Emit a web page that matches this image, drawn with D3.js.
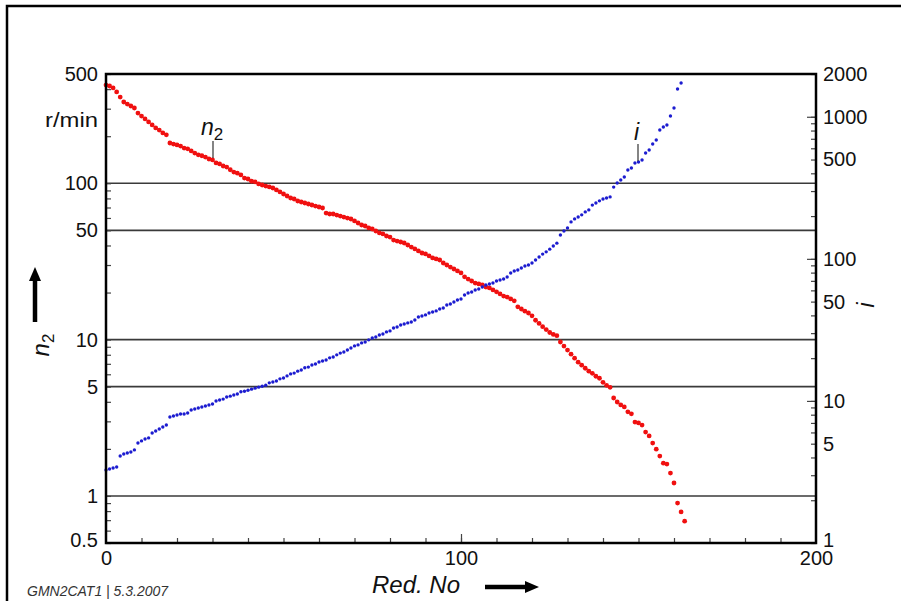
<!DOCTYPE html>
<html>
<head>
<meta charset="utf-8">
<script src="https://cdn.jsdelivr.net/npm/d3@7"></script>
<style>
  body { margin: 0; background: #fff; }
  svg { display: block; }
  text { font-family: "Liberation Sans", Arial, sans-serif; }
</style>
</head>
<body>
<div id="chart"></div>
<script>
// Output speed n2 (r/min), one value per Red. No (0, 1, 2, ...)
var n2Values = [
  425, 419, 407, 384, 356, 331, 321, 312, 303, 281,
  269, 258, 247, 236, 226, 219, 210, 204, 181, 178,
  176, 173, 168, 166, 161, 156, 152, 150, 147, 143,
  141, 135, 133, 129, 127, 122, 118, 116, 113, 108,
  106.5, 103, 102, 99, 97.5, 96, 94.7, 93.3, 90.6, 88,
  85.4, 82.9, 80.5, 79.3, 77, 75.9, 74.8, 73.7, 72.6, 71.5,
  70.5, 69.5, 64.5, 63.6, 63.6, 62.6, 61.7, 60.8, 59.9, 59.1,
  57.4, 55.7, 54.1, 53.3, 51.8, 51, 49.5, 48.1, 47.4, 46,
  45.3, 43.3, 42.7, 42.1, 41.5, 40.3, 39.1, 38, 36.9, 35.8,
  35.3, 34.3, 33.3, 32.8, 32.3, 30.9, 30, 29.1, 28.3, 27.5,
  26.7, 25.2, 24.4, 23.7, 23, 22.7, 22.4, 21.7, 21.4, 20.8,
  20.2, 19.6, 19, 18.7, 18.2, 17.7, 16.2, 15.7, 15.2, 14.8,
  14.2, 13.3, 12.7, 12.1, 11.6, 11.1, 10.8, 10.6, 9.65, 9.09,
  8.57, 8.07, 7.61, 7.17, 6.86, 6.56, 6.28, 6.09, 5.83, 5.66,
  5.33, 5.1, 4.95, 4.23, 3.99, 3.82, 3.71, 3.45, 3.35, 2.97,
  2.93, 2.84, 2.56, 2.42, 2.18, 1.99, 1.8, 1.62, 1.6, 1.4,
  1.21, 0.9, 0.79, 0.69
];

// Ratio i, one value per Red. No
var iValues = [
  3.27, 3.32, 3.37, 3.43, 4.10, 4.23, 4.30, 4.37, 4.52, 5.06,
  5.23, 5.40, 5.49, 5.95, 6.14, 6.35, 6.55, 6.77, 7.71, 7.83,
  7.96, 8.09, 8.09, 8.22, 8.64, 8.77, 8.92, 9.07, 9.21, 9.36,
  9.51, 9.99, 10.15, 10.3, 10.66, 10.8, 11.0, 11.2, 11.6, 11.7,
  11.9, 12.1, 12.3, 12.5, 12.7, 12.9, 13.4, 13.6, 13.8, 14.3,
  14.5, 15.0, 15.5, 15.7, 16.2, 16.5, 17.1, 17.3, 17.9, 18.2,
  18.8, 19.1, 19.4, 20.1, 20.4, 21.1, 21.7, 22.1, 22.8, 23.6,
  24.4, 24.8, 25.6, 26.0, 26.9, 27.7, 28.2, 29.1, 29.6, 30.6,
  31.1, 32.6, 33.1, 34.2, 34.8, 35.4, 35.9, 37.1, 39.0, 39.6,
  40.3, 41.6, 42.3, 43.0, 44.4, 45.1, 47.3, 48.1, 49.7, 51.3,
  52.2, 55.7, 57.5, 58.4, 60.4, 61.3, 63.4, 65.5, 66.5, 67.6,
  69.8, 71.0, 72.2, 74.5, 79.5, 82.1, 83.5, 86.2, 89.1, 90.5,
  93.5, 98.2, 103, 108, 112, 117, 123, 129, 147, 157,
  165, 182, 191, 197, 204, 214, 221, 239, 247, 256,
  264, 268, 273, 320, 342, 359, 377, 422, 436, 473,
  480, 496, 556, 584, 643, 686, 807, 847, 875, 1013,
  1153, 1569, 1729
];

// tick labels
var leftLabels = [500, 100, 50, 10, 5, 1, 0.5];
var rightLabels = [2000, 1000, 500, 100, 50, 10, 5, 1];
var rightMajor = [10, 100, 1000];
var xLabels = [0, 100, 200];
var xMinor = d3.range(10, 200, 10);
var gridValues = [100, 50, 10, 5, 1];

var width = 901, height = 601;
var plotL = 106, plotR = 816, plotT = 74, plotB = 543;

var svg = d3.select("#chart")
  .append("svg")
  .attr("width", width)
  .attr("height", height);

// page frame, only top and left edges show
svg.append("path")
  .attr("d", "M7," + height + "V6H" + width)
  .attr("fill", "none")
  .attr("stroke", "#000")
  .attr("stroke-width", 2.5);

var xScale = d3.scaleLinear().domain([0, 200]).range([plotL, plotR]);
var yLeft = d3.scaleLog().domain([0.5, 500]).range([plotB, plotT]);
var yRight = d3.scaleLog().domain([1, 2000]).range([plotB, plotT]);

// horizontal gridlines
svg.append("g")
  .selectAll("line")
  .data(gridValues)
  .enter()
  .append("line")
  .attr("x1", plotL)
  .attr("x2", plotR)
  .attr("y1", function(d) { return yLeft(d); })
  .attr("y2", function(d) { return yLeft(d); })
  .attr("stroke", "#3a3a3a")
  .attr("stroke-width", 1.6);

// small inside ticks
function tickGroup(axis, tx, ty) {
  var g = svg.append("g")
    .attr("transform", "translate(" + tx + "," + ty + ")")
    .attr("color", "#444")
    .call(axis);
  g.select(".domain").remove();
  g.selectAll(".tick line").attr("stroke-width", 1.2);
  return g;
}
tickGroup(d3.axisRight(yLeft).tickValues(yLeft.ticks()).tickSize(5).tickFormat(""), plotL, 0);
tickGroup(d3.axisLeft(yRight).tickValues(yRight.ticks()).tickSize(5).tickFormat(""), plotR, 0);
tickGroup(d3.axisLeft(yRight).tickValues(rightMajor).tickSize(9).tickFormat(""), plotR, 0);
tickGroup(d3.axisTop(xScale).tickValues(xMinor).tickSize(5).tickFormat(""), 0, plotB);
tickGroup(d3.axisTop(xScale).tickValues([100]).tickSize(9).tickFormat(""), 0, plotB);

// tick labels
function labelGroup(axis, tx, ty, lowest) {
  var g = svg.append("g")
    .attr("transform", "translate(" + tx + "," + ty + ")")
    .call(axis);
  g.select(".domain").remove();
  g.selectAll(".tick line").remove();
  g.selectAll("text")
    .attr("font-family", "'Liberation Sans', Arial, sans-serif")
    .attr("font-size", 20)
    .attr("fill", "#111");
  // the bottom label of each y axis sits a little higher
  if (lowest !== undefined) {
    g.selectAll(".tick")
      .filter(function(d) { return d === lowest; })
      .select("text")
      .attr("y", -3);
  }
  return g;
}
labelGroup(d3.axisLeft(yLeft).tickValues(leftLabels).tickSize(0).tickPadding(8)
  .tickFormat(function(d) { return String(d); }), plotL, 0, 0.5);
labelGroup(d3.axisRight(yRight).tickValues(rightLabels).tickSize(0).tickPadding(7)
  .tickFormat(function(d) { return String(d); }), plotR, 0, 1);
labelGroup(d3.axisBottom(xScale).tickValues(xLabels).tickSize(0).tickPadding(8)
  .tickFormat(function(d) { return String(d); }), 0, plotB);

// unit under the top label
svg.append("text")
  .attr("x", 45)
  .attr("y", 127)
  .attr("font-size", 20)
  .attr("textLength", 53)
  .attr("lengthAdjust", "spacingAndGlyphs")
  .attr("fill", "#111")
  .text("r/min");

// data points
svg.append("g")
  .selectAll("circle")
  .data(n2Values)
  .enter()
  .append("circle")
  .attr("cx", function(d, i) { return xScale(i); })
  .attr("cy", function(d) { return yLeft(d); })
  .attr("r", 2.4)
  .attr("fill", "#f01010");

svg.append("g")
  .selectAll("circle")
  .data(iValues)
  .enter()
  .append("circle")
  .attr("cx", function(d, i) { return xScale(i); })
  .attr("cy", function(d) { return yRight(d); })
  .attr("r", 1.7)
  .attr("fill", "#1c1cd0");

// plot frame
svg.append("rect")
  .attr("x", plotL)
  .attr("y", plotT)
  .attr("width", plotR - plotL)
  .attr("height", plotB - plotT)
  .attr("fill", "none")
  .attr("stroke", "#000")
  .attr("stroke-width", 2.5);

// curve labels with leader lines
var n2Lab = svg.append("text").attr("x", 201).attr("y", 135).attr("fill", "#111");
n2Lab.append("tspan").attr("font-style", "italic").attr("font-size", 23).text("n");
n2Lab.append("tspan").attr("font-size", 17).attr("dy", 5).text("2");
svg.append("line").attr("x1", 213).attr("x2", 213).attr("y1", 141).attr("y2", 158)
  .attr("stroke", "#333").attr("stroke-width", 1.2);

svg.append("text").attr("x", 634).attr("y", 140).attr("fill", "#111")
  .attr("font-style", "italic").attr("font-size", 23).text("i");
svg.append("line").attr("x1", 638).attr("x2", 638).attr("y1", 144).attr("y2", 161)
  .attr("stroke", "#333").attr("stroke-width", 1.2);

// axis titles
var yTitle = svg.append("text")
  .attr("transform", "translate(49,345) rotate(-90)")
  .attr("text-anchor", "middle")
  .attr("fill", "#111");
yTitle.append("tspan").attr("font-style", "italic").attr("font-size", 24).text("n");
yTitle.append("tspan").attr("font-size", 17).attr("dy", 5).text("2");

svg.append("text")
  .attr("transform", "translate(874,305) rotate(-90)")
  .attr("text-anchor", "middle")
  .attr("font-style", "italic")
  .attr("font-size", 23)
  .attr("fill", "#111")
  .text("i");

svg.append("text")
  .attr("x", 372)
  .attr("y", 593)
  .attr("font-style", "italic")
  .attr("font-size", 24)
  .attr("fill", "#111")
  .text("Red. No");

// arrows
function arrow(x1, y1, x2, y2) {
  var ang = Math.atan2(y2 - y1, x2 - x1);
  var len = Math.hypot(x2 - x1, y2 - y1);
  var g = svg.append("g")
    .attr("transform", "translate(" + x1 + "," + y1 + ") rotate(" + (ang * 180 / Math.PI) + ")");
  g.append("line").attr("x1", 0).attr("y1", 0).attr("x2", len - 12).attr("y2", 0)
    .attr("stroke", "#000").attr("stroke-width", 4.5);
  g.append("path").attr("d", "M" + (len - 14) + ",-6L" + len + ",0L" + (len - 14) + ",6Z")
    .attr("fill", "#000");
}
arrow(35, 322, 35, 267);
arrow(485, 587, 539, 587);

// footer
svg.append("text")
  .attr("x", 27)
  .attr("y", 596)
  .attr("font-style", "italic")
  .attr("font-size", 14)
  .attr("fill", "#333")
  .text("GMN2CAT1 | 5.3.2007");
</script>
</body>
</html>
